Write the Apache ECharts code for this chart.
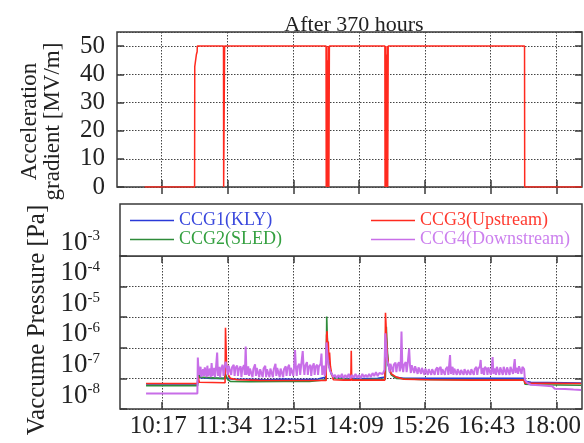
<!DOCTYPE html>
<html>
<head>
<meta charset="utf-8">
<title>After 370 hours</title>
<script src="https://cdn.jsdelivr.net/npm/echarts@6/dist/echarts.min.js"></script>
<style>
  html, body { margin: 0; padding: 0; background: #fff; }
  #chart { width: 584px; height: 443px; }
</style>
</head>
<body>
<div id="chart"></div>
<script>
// time axis: minutes since midnight
const tickMinutes = [617, 694.17, 771.33, 848.5, 925.67, 1002.83, 1080];
const tickLabels = ['10:17', '11:34', '12:51', '14:09', '15:26', '16:43', '18:00'];
const gradTicks = [0, 10, 20, 30, 40, 50];
const pressureTicks = [1e-8, 1e-7, 1e-6, 1e-5, 1e-4, 1e-3];

// acceleration gradient [MV/m]
const gradTime = [597, 655.6, 655.8, 657.5, 657.7, 658.6, 658.8, 689.5, 689.7, 690.6, 690.8,
  809.8, 810.0, 810.4, 810.6, 810.8, 811.0, 811.4, 811.6, 811.9, 812.1, 812.5, 812.7, 812.9, 813.1, 813.5, 813.7,
  878.8, 879.0, 879.4, 879.6, 879.8, 880.0, 880.4, 880.6, 880.9, 881.1, 881.5, 881.7, 881.9, 882.1, 882.5, 882.7,
  1042.6, 1042.8, 1110];
const gradValue = [0, 0, 42.7, 43, 47, 48, 50, 50, 0, 0, 50,
  50, 0, 0, 50, 50, 0, 0, 45, 45, 0, 0, 50, 50, 0, 0, 50,
  50, 0, 0, 50, 50, 0, 0, 47, 47, 0, 0, 50, 50, 0, 0, 50,
  50, 0, 0];

// vacuum pressure [Pa], [minute, value]
const ccg1 = [[598, 6.6e-8], [640, 6.6e-8], [641, 7.5e-8], [642, 6.6e-8], [658.5, 6.6e-8], [659.3, 2.6e-7],
  [660.2, 1.5e-7], [661.5, 1.05e-7], [675, 1.0e-7], [690, 1.0e-7], [691, 1.2e-7], [693, 1.0e-7],
  [700, 9.5e-8], [720, 9.4e-8], [740, 9.0e-8], [760, 9.6e-8], [780, 9.2e-8], [800, 9.5e-8],
  [809.5, 1.1e-7], [810.3, 2.5e-6], [811, 1.5e-6], [812, 4e-7], [814, 2e-7], [816, 1.4e-7],
  [819, 1.1e-7], [830, 1.0e-7], [850, 9.8e-8], [870, 1.0e-7], [879, 1.1e-7], [879.8, 3e-6],
  [880.8, 1e-6], [882, 3e-7], [885, 1.5e-7], [890, 1.1e-7], [900, 1.0e-7], [950, 1.0e-7],
  [1000, 1.0e-7], [1042.5, 1.0e-7], [1043, 8e-8], [1050, 7.5e-8], [1109, 7e-8]];

const ccg2 = [[598, 5.8e-8], [658.5, 5.8e-8], [659.3, 1.8e-7], [660.5, 1.1e-7], [662, 9.8e-8], [690, 9.8e-8],
  [691.2, 1.4e-7], [694, 9e-8], [697, 8e-8], [720, 7.8e-8], [760, 7.9e-8], [790, 8e-8], [809.5, 9e-8],
  [810.2, 1.05e-5], [810.7, 3e-6], [811.5, 8e-7], [813, 2.5e-7], [816, 1.3e-7], [820, 1.0e-7],
  [840, 9.2e-8], [860, 9.3e-8], [879, 9.5e-8], [879.6, 2e-6], [880.2, 4.9e-6], [881, 1.2e-6],
  [882.5, 3e-7], [886, 1.3e-7], [892, 1.0e-7], [920, 9.2e-8], [960, 9e-8], [1000, 9e-8],
  [1042, 9e-8], [1043, 6.5e-8], [1060, 6.2e-8], [1109, 6e-8]];

const ccg3 = [[598, 6.8e-8], [658.5, 6.8e-8], [659, 1.2e-7], [660.5, 7.5e-8], [690.8, 7.2e-8], [691.3, 4.5e-6],
  [691.8, 1.5e-6], [692.5, 3e-7], [694, 1.4e-7], [697, 1.0e-7], [705, 9e-8], [730, 8.6e-8], [760, 8.5e-8],
  [790, 8.5e-8], [809.5, 8.6e-8], [810, 2.5e-6], [810.6, 3.5e-6], [811.2, 8e-7], [812, 1.6e-6],
  [812.8, 4e-7], [813.5, 7e-7], [814.5, 2.5e-7], [816, 1.4e-7], [818, 9e-8], [830, 8.8e-8],
  [838.5, 8.8e-8], [839, 8e-7], [839.5, 8.8e-8], [860, 8.8e-8], [878.5, 8.8e-8], [879.2, 1.4e-5],
  [879.8, 6e-6], [880.5, 1.5e-6], [881.5, 5e-7], [883, 2.5e-7], [886, 1.4e-7], [892, 1.1e-7],
  [900, 9.5e-8], [930, 9e-8], [980, 8.8e-8], [1020, 8.8e-8], [1042, 8.8e-8], [1043, 7e-8],
  [1070, 6.9e-8], [1109, 6.8e-8]];

const ccg4 = [[598, 3.2e-8], [658.3, 3.2e-8], [658.8, 4.8e-7], [659.5, 2.0e-7], [660.5, 1.3e-7],
  [661, 1.5e-7], [662, 2.4e-7], [663, 1.1e-7], [665, 2.0e-7], [666, 1.2e-7], [667, 2.3e-7], [669, 1.1e-7],
  [670, 2.6e-7], [671, 1.2e-7], [673, 2.1e-7], [674, 1.1e-7], [675, 3.2e-7], [676, 1.2e-7], [678, 2.2e-7],
  [679, 1.1e-7], [680, 2.0e-7], [681.5, 7e-7], [682.5, 1.2e-7], [684, 2.4e-7], [685, 1.1e-7], [686, 2.0e-7],
  [688, 2.8e-7], [689, 1.2e-7], [690, 2.0e-7], [691.5, 3.5e-7], [693, 2.2e-7], [694, 1.3e-7], [695, 2.6e-7],
  [697, 3.0e-7], [698, 1.3e-7], [699, 2.3e-7], [701, 2.8e-7], [702, 1.2e-7], [703, 2.2e-7], [705, 2.6e-7],
  [706, 1.2e-7], [707, 2.0e-7], [709, 2.5e-7], [710, 1.1e-7], [711, 2.0e-7], [713, 2.7e-7], [714, 1.3e-7],
  [715, 1.1e-6], [716, 1.3e-7], [718, 2.5e-7], [719, 1.2e-7], [720, 2.1e-7], [722, 2.4e-7], [723, 1.1e-7],
  [724, 2.0e-7], [726, 2.9e-7], [727, 1.2e-7], [728, 2.2e-7], [730, 2.5e-7], [731, 1.1e-7], [732, 2.0e-7],
  [734, 2.3e-7], [735, 1.1e-7], [736, 2.1e-7], [738, 2.6e-7], [739, 1.1e-7], [740, 2.0e-7], [742, 2.3e-7],
  [743, 1.1e-7], [744, 2.1e-7], [746, 2.4e-7], [747, 1.1e-7], [748, 2.0e-7], [750, 3.0e-7], [751, 1.2e-7],
  [752, 2.2e-7], [754, 2.5e-7], [755, 1.1e-7], [756, 2.1e-7], [758, 2.4e-7], [759, 1.1e-7], [760, 2.0e-7],
  [762, 2.5e-7], [763, 1.2e-7], [764, 2.1e-7], [766, 2.8e-7], [767, 1.2e-7], [768, 2.2e-7], [770, 2.5e-7],
  [771, 1.2e-7], [772, 3.0e-7], [773, 8.5e-7], [774, 2.2e-7], [775, 1.2e-7], [776, 2.4e-7], [778, 3.0e-7],
  [779, 1.3e-7], [780, 2.4e-7], [782, 7.8e-7], [783, 2.4e-7], [784, 1.3e-7], [785, 2.6e-7], [787, 3.4e-7],
  [788, 1.3e-7], [789, 2.3e-7], [791, 2.8e-7], [792, 1.2e-7], [793, 2.2e-7], [795, 3.1e-7], [796, 1.3e-7],
  [797, 2.4e-7], [799, 2.8e-7], [800, 1.3e-7], [801, 2.4e-7], [803, 3.0e-7], [804, 6.5e-7], [805, 1.3e-7],
  [807, 2.6e-7], [808, 1.2e-7], [809, 2.0e-7], [810, 1.5e-6], [811, 6e-7], [812, 3e-7],
  [814, 1.8e-7], [816, 1.4e-7], [818, 1.1e-7], [820, 1.3e-7], [822, 1.0e-7], [824, 1.3e-7], [826, 1.05e-7],
  [828, 1.4e-7], [830, 1.0e-7], [832, 1.3e-7], [834, 1.05e-7], [836, 1.4e-7], [838, 1.0e-7], [840, 1.3e-7],
  [842, 1.05e-7], [844, 1.4e-7], [846, 1.05e-7], [848, 1.3e-7], [850, 1.0e-7], [852, 1.4e-7], [854, 1.1e-7],
  [856, 1.3e-7], [858, 1.1e-7], [860, 1.4e-7], [862, 1.1e-7], [864, 1.5e-7], [866, 1.2e-7], [868, 1.6e-7],
  [870, 1.2e-7], [872, 1.5e-7], [874, 1.7e-7], [876, 1.4e-7], [878, 1.9e-7], [879, 3e-6], [880, 1.2e-6],
  [881, 4e-7], [883, 2.6e-7], [884, 1.6e-7], [885, 3.0e-7], [887, 3.2e-7], [888, 1.6e-7], [889, 2.8e-7],
  [891, 3.3e-7], [892, 1.6e-7], [893, 2.6e-7], [895, 3.4e-7], [896, 1.7e-7], [897, 2.4e-7], [898, 3.4e-6],
  [899, 2.4e-7], [900, 1.6e-7], [901, 2.8e-7], [903, 3.4e-7], [904, 1.6e-7], [905, 2.6e-7], [907, 9.5e-7],
  [908, 2.6e-7], [909, 1.5e-7], [910, 2.7e-7], [912, 3.1e-7], [913, 1.5e-7], [914, 2.5e-7], [916, 2.8e-7],
  [917, 1.4e-7], [918, 2.3e-7], [920, 2.6e-7], [921, 1.4e-7], [922, 2.2e-7], [924, 2.5e-7], [925, 1.3e-7],
  [926, 2.1e-7], [928, 2.4e-7], [929, 1.3e-7], [930, 2.0e-7], [932, 2.3e-7], [933, 1.3e-7], [934, 2.0e-7],
  [936, 2.2e-7], [937, 1.3e-7], [938, 1.9e-7], [940, 2.3e-7], [941, 1.3e-7], [942, 2.0e-7], [944, 2.4e-7],
  [945, 1.3e-7], [946, 2.0e-7], [948, 2.3e-7], [949, 1.3e-7], [950, 2.0e-7], [952, 2.4e-7], [953, 1.3e-7],
  [955, 5.8e-7], [956, 1.4e-7], [958, 2.4e-7], [959, 1.3e-7], [960, 2.1e-7], [962, 2.3e-7], [963, 1.3e-7],
  [964, 2.0e-7], [966, 2.2e-7], [967, 1.3e-7], [968, 1.9e-7], [970, 2.2e-7], [971, 1.3e-7], [972, 2.0e-7],
  [974, 2.3e-7], [975, 1.3e-7], [976, 1.9e-7], [978, 2.2e-7], [979, 1.3e-7], [980, 2.0e-7], [982, 2.3e-7],
  [983, 1.3e-7], [984, 2.0e-7], [986, 2.4e-7], [987, 1.3e-7], [988, 2.0e-7], [990, 2.5e-7], [991, 4e-7],
  [992, 1.4e-7], [994, 2.2e-7], [995, 1.3e-7], [996, 2.4e-7], [998, 2.0e-7], [999, 1.3e-7], [1000, 2.3e-7],
  [1002, 2.0e-7], [1003, 1.3e-7], [1004, 2.2e-7], [1005, 5e-7], [1006, 1.4e-7], [1008, 2.1e-7],
  [1009, 1.3e-7], [1010, 2.4e-7], [1012, 2.1e-7], [1013, 1.3e-7], [1014, 2.3e-7], [1016, 2.0e-7],
  [1017, 1.3e-7], [1018, 2.4e-7], [1020, 2.1e-7], [1021, 1.3e-7], [1022, 2.3e-7], [1024, 2.0e-7],
  [1025, 1.3e-7], [1026, 2.4e-7], [1028, 2.2e-7], [1029, 1.4e-7], [1030, 2.5e-7], [1031, 4.3e-7],
  [1032, 1.5e-7], [1034, 2.2e-7], [1035, 1.4e-7], [1036, 2.5e-7], [1038, 2.3e-7], [1039, 1.4e-7],
  [1040, 2.4e-7], [1042, 2.0e-7], [1043, 9e-8], [1046, 7e-8], [1050, 6.2e-8], [1060, 6e-8],
  [1075, 5.5e-8], [1078, 4.6e-8], [1090, 4.5e-8], [1100, 4.3e-8], [1109, 4.2e-8]];

const seriesNames = ['CCG1(KLY)', 'CCG2(SLED)', 'CCG3(Upstream)', 'CCG4(Downstream)'];
const lineColors = ['#2a3ad8', '#2e8b3a', '#ff2a1f', '#c86ee8'];
const textColors = ['#3a48dd', '#34a040', '#ff3a30', '#cc80ee'];

const serif = 'Liberation Serif';
const frame = '#3a3a3a';

const tickStyle = { show: true, inside: true, length: 7, lineStyle: { color: frame, width: 1.5 } };
const gridLine = { show: true, lineStyle: { color: '#444', width: 1, type: [1.5, 1.5] } };

function timeAxis(grid, pos, min, showLabel) {
  return {
    type: 'value', gridIndex: grid, position: pos, min: min, max: 1110,
    axisLine: { show: false },
    axisTick: { ...tickStyle, customValues: tickMinutes },
    splitLine: pos === 'bottom' ? gridLine : { show: false },
    axisLabel: {
      show: showLabel, customValues: tickMinutes, margin: 5,
      fontFamily: serif, fontSize: 25, color: '#222', padding: [0, 8, 0, 0],
      formatter: function (v) {
        let i = tickMinutes.findIndex(m => Math.abs(m - v) < 1);
        return i >= 0 ? tickLabels[i] : '';
      }
    }
  };
}

function legendBlock(left, idx) {
  return {
    left: left, top: 211, orient: 'vertical', padding: 0,
    icon: 'rect', itemWidth: 44, itemHeight: 1.6, itemGap: 0,
    selectedMode: false,
    textStyle: { fontFamily: serif, fontSize: 18, lineHeight: 19 },
    data: idx.map(i => ({ name: seriesNames[i], textStyle: { color: textColors[i] } }))
  };
}

const chart = echarts.init(document.getElementById('chart'));

const option = {
  animation: false,
  backgroundColor: '#fff',
  title: {
    text: 'After 370 hours', left: 349, top: 9, textAlign: 'center',
    textStyle: { fontFamily: serif, fontSize: 22, fontWeight: 'normal', color: '#222' }
  },
  grid: [
    { left: 117, right: 2, top: 32, height: 155, show: true, borderColor: frame, borderWidth: 1.5 },
    { left: 120, right: 2, top: 256, height: 153, show: true, borderColor: frame, borderWidth: 1.5 }
  ],
  graphic: [{
    type: 'rect', z: 0,
    shape: { x: 120, y: 204, width: 462, height: 52 },
    style: { fill: '#fff', stroke: frame, lineWidth: 1.5 }
  }],
  legend: [legendBlock(130, [0, 1]), legendBlock(371, [2, 3])],
  xAxis: [
    timeAxis(0, 'bottom', 564.6, false),
    timeAxis(0, 'top', 564.6, false),
    timeAxis(1, 'bottom', 567.4, true),
    timeAxis(1, 'top', 567.4, false)
  ],
  yAxis: [
    {
      type: 'value', gridIndex: 0, position: 'left', min: 0, max: 55, interval: 10,
      name: 'Acceleration\ngradient [MV/m]', nameLocation: 'middle', nameRotate: 90, nameGap: 53,
      nameTextStyle: { fontFamily: serif, fontSize: 23, lineHeight: 23, color: '#222', padding: [0, 24, 0, 0] },
      axisLine: { show: false }, axisTick: tickStyle, splitLine: gridLine,
      axisLabel: {
        showMaxLabel: false, margin: 12, fontFamily: serif, fontSize: 25, color: '#222',
        formatter: v => (gradTicks.indexOf(v) >= 0 ? String(v) : '')
      }
    },
    {
      type: 'value', gridIndex: 0, position: 'right', min: 0, max: 55, interval: 10,
      axisLine: { show: false }, axisTick: tickStyle, splitLine: { show: false }, axisLabel: { show: false }
    },
    {
      type: 'log', logBase: 10, gridIndex: 1, position: 'left', min: 1e-8, max: 1e-3, splitNumber: 5,
      name: 'Vaccume Pressure [Pa]', nameLocation: 'middle', nameRotate: 90, nameGap: 65,
      nameTextStyle: { fontFamily: serif, fontSize: 25, color: '#222', padding: [0, 0, 0, 25] },
      axisLine: { show: false }, axisTick: tickStyle, splitLine: gridLine,
      axisLabel: {
        margin: 20, verticalAlign: 'bottom', color: '#222',
        formatter: function (v) {
          let i = pressureTicks.findIndex(p => Math.abs(Math.log10(p) - Math.log10(v)) < 0.01);
          if (i < 0) return '';
          return '{b|10}{e|' + Math.round(Math.log10(pressureTicks[i])) + '}';
        },
        rich: {
          b: { fontFamily: serif, fontSize: 27, color: '#222' },
          e: { fontFamily: serif, fontSize: 15, color: '#222', verticalAlign: 'top' }
        }
      }
    },
    {
      type: 'log', logBase: 10, gridIndex: 1, position: 'right', min: 1e-8, max: 1e-3, splitNumber: 5,
      axisLine: { show: false }, axisTick: tickStyle, splitLine: { show: false }, axisLabel: { show: false }
    }
  ],
  series: [
    {
      name: 'gradient', type: 'line', xAxisIndex: 0, yAxisIndex: 0, symbol: 'none',
      lineStyle: { color: '#ff2a1f', width: 1.5 },
      data: gradTime.map((t, i) => [t, gradValue[i]])
    }
  ].concat([ccg1, ccg2, ccg3, ccg4].map((d, i) => ({
    name: seriesNames[i], type: 'line', xAxisIndex: 2, yAxisIndex: 2, symbol: 'none',
    color: lineColors[i],
    lineStyle: { color: lineColors[i], width: i === 3 ? 2 : 1.6 },
    data: d
  })))
};

chart.setOption(option);
window.addEventListener('resize', chart.resize);
</script>
</body>
</html>
